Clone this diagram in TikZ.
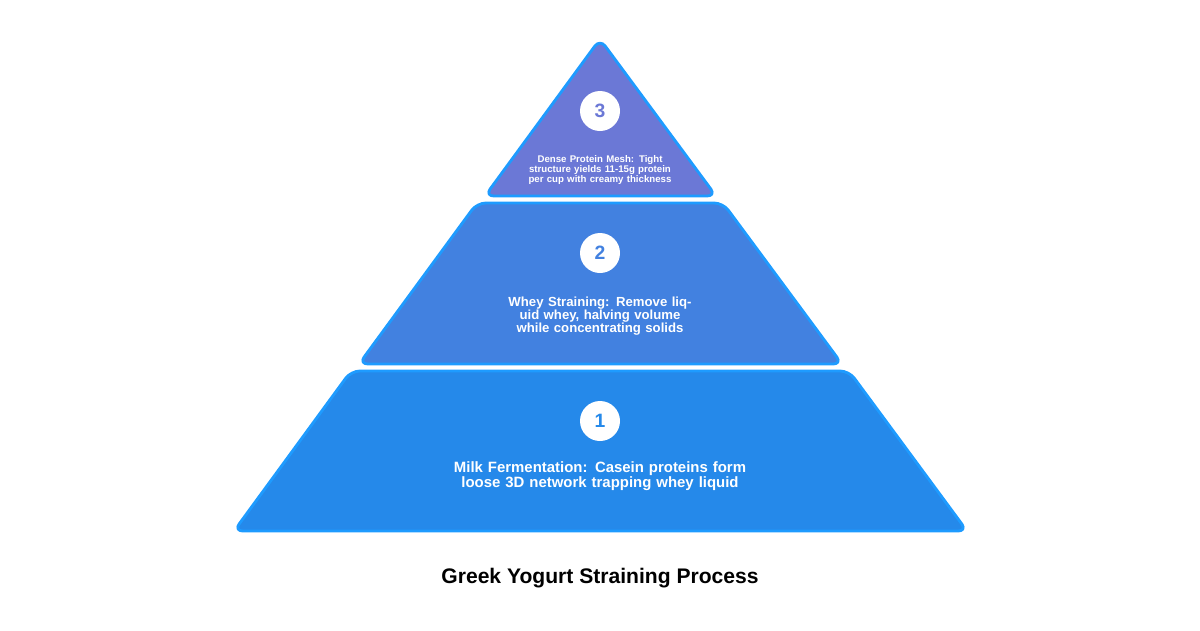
\documentclass[tikz,border=0pt]{standalone}
\usepackage{fontspec}
\setmainfont{Liberation Sans}
\usetikzlibrary{calc}
\definecolor{tierA}{HTML}{2589EA}
\definecolor{tierB}{HTML}{4281E0}
\definecolor{tierC}{HTML}{6B78D6}
\definecolor{rim}{HTML}{1E9BFF}
\tikzset{
  tier/.style = {draw = rim, line width = 1.6pt, rounded corners = 5pt, line join = round},
  badge/.style = {circle, fill = white, minimum size = 0.8cm, inner sep = 0pt, font = \bfseries\fontsize{11}{11}\selectfont},
  caption/.style = {text = white, align = center, font = \bfseries\fontsize{#1}{#1}\selectfont}
}
\begin{document}
\begin{tikzpicture}[x = 0.02cm, y = -0.02cm]
\useasboundingbox (0,0) rectangle (1200,630);
%tiers
\draw[tier, fill = tierA] (351,371) -- (849,371) -- (967,531) -- (234,531) -- cycle;
\draw[tier, fill = tierB] (477,203) -- (723,203) -- (842,364) -- (359,364) -- cycle;
\draw[tier, fill = tierC] (600,39) -- (716,196) -- (485,196) -- cycle;
%labels
\node[badge, text = tierA] (one) at (600,421) {1};
\node[caption = 8.5, text width = 7.2cm] (oneText) at (600,476) {Milk Fermentation: Casein proteins form loose 3D network trapping whey liquid};
\node[badge, text = tierB] (two) at (600,253) {2};
\node[caption = 7.5, text width = 5.2cm] (twoText) at (600,316) {Whey Straining: Remove liquid whey, halving volume while concentrating solids};
\node[badge, text = tierC] (three) at (600,111) {3};
\node[caption = 5.5, text width = 3.0cm] (threeText) at (600,170) {Dense Protein Mesh: Tight structure yields 11-15g protein per cup with creamy thickness};
\node[font = \bfseries\fontsize{12}{12}\selectfont] (title) at (600,578) {Greek Yogurt Straining Process};
\end{tikzpicture}
\end{document}
